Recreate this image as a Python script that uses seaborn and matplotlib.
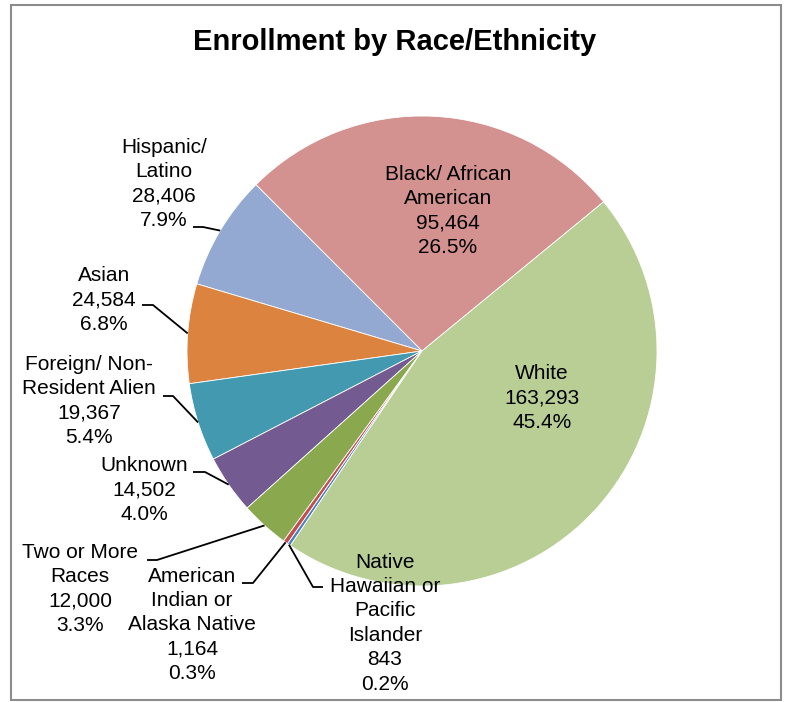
import matplotlib
matplotlib.use("Agg")
import matplotlib.pyplot as plt
import seaborn as sns
import numpy as np
from matplotlib.patches import Rectangle

sns.set_style("white")
plt.rcParams['font.family'] = ['Liberation Sans', 'DejaVu Sans']
plt.rcParams['text.color'] = 'black'

# data (counter-clockwise from the Black/White boundary)
categories = ['Black/ African\nAmerican', 'Hispanic/\nLatino', 'Asian',
              'Foreign/ Non-\nResident Alien', 'Unknown', 'Two or More\nRaces',
              'American\nIndian or\nAlaska Native', 'Native\nHawaiian or\nPacific\nIslander',
              'White']
enrollment = [95464, 28406, 24584, 19367, 14502, 12000, 1164, 843, 163293]
colors = ['#D39190', '#94A9D1', '#DC843F', '#4299B0', '#735A91',
          '#8AA84E', '#C0504D', '#4F81BD', '#B9CE95']

W, H = 788, 702
total = sum(enrollment)


def py(y):
    # pixel row -> data y (axes spans full figure in pixel units)
    return H - y


fig = plt.figure(figsize=(W / 100, H / 100), dpi=100)
ax = fig.add_axes([0, 0, 1, 1])

cx, cy, r = 422, 351, 235
wedges, _ = ax.pie(enrollment, colors=colors, startangle=39.4, counterclock=True,
                   radius=r, center=(cx, py(cy)),
                   wedgeprops=dict(linewidth=0.6, edgecolor='white'))

ax.set_xlim(0, W)
ax.set_ylim(0, H)
ax.set_aspect('equal')
ax.axis('off')

labels = [f"{c}\n{v:,}\n{v / total * 100:.1f}%" for c, v in zip(categories, enrollment)]

# label placement: text centre, leader start, leader elbow (pixel coords); None = inside
layout = [
    ((448, 211), None, None),
    ((164, 184), (193, 227), (203, 227)),
    ((104, 300), (142, 305), (153, 305)),
    ((89, 401), (163, 396), (173, 396)),
    ((144, 490), (193, 472), (205, 472)),
    ((80, 589), (147, 560), (157, 560)),
    ((192, 625), (242, 583), (253, 583)),
    ((385, 623), (323, 587), (313, 587)),
    ((542, 398), None, None),
]

for w, lab, (tc, p0, p1) in zip(wedges, labels, layout):
    ax.text(tc[0], py(tc[1]), lab, ha='center', va='center', fontsize=15,
            linespacing=1.36, color='black')
    if p0 is not None:
        mid = np.deg2rad((w.theta1 + w.theta2) / 2)
        ex = cx + r * np.cos(mid)
        ey = py(cy) + r * np.sin(mid)
        ax.plot([p0[0], p1[0], ex], [py(p0[1]), py(p1[1]), ey],
                color='black', linewidth=1.3, solid_capstyle='butt')

ax.text(395, py(42), 'Enrollment by Race/Ethnicity', ha='center', va='center',
        fontsize=21, fontweight='bold', color='black')

fig.patches.append(Rectangle((11 / W, 1 - 700 / H), 770 / W, 695 / H,
                             transform=fig.transFigure, fill=False,
                             edgecolor='#8C8C8C', linewidth=1.5))

fig.savefig('out.png', dpi=100, facecolor='white')
